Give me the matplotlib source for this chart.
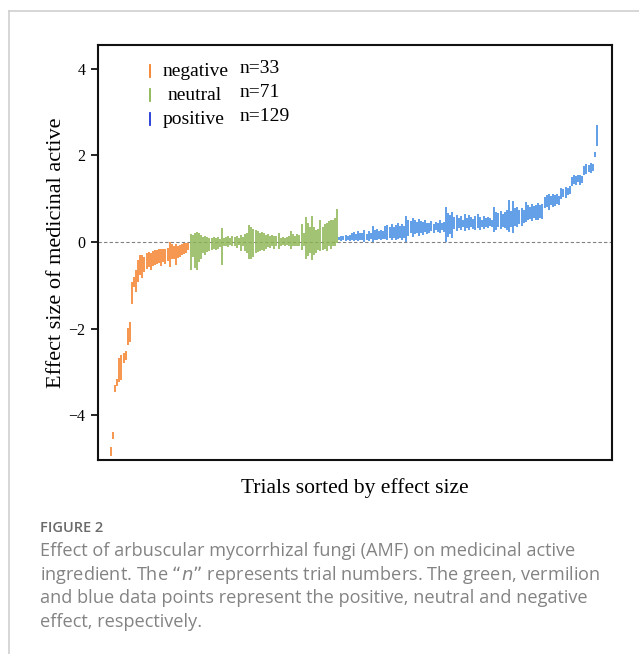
import matplotlib
matplotlib.use("Agg")
import matplotlib.pyplot as plt
import numpy as np
from matplotlib.lines import Line2D

# ---- data: (lower, upper) of each trial, sorted by effect size ----
neg_lo = [-4.94, -4.54, -3.46, -3.32, -3.23, -3.18, -2.79, -2.72, -2.38, -2.31,
          -1.43, -1.04, -1.15, -0.92, -0.76, -0.83, -0.69, -0.62, -0.58, -0.65,
          -0.55, -0.52, -0.50, -0.48, -0.55, -0.46, -0.50, -0.44, -0.58, -0.40,
          -0.38, -0.52, -0.36, -0.34, -0.30, -0.28, -0.24, -0.18]
neg_hi = [-4.73, -4.38, -3.30, -3.16, -2.68, -2.60, -2.56, -2.52, -1.98, -1.85,
          -0.92, -0.81, -0.65, -0.42, -0.30, -0.30, -0.35, -0.25, -0.22, -0.24,
          -0.20, -0.19, -0.18, -0.17, -0.16, -0.15, -0.16, -0.14, 0.00, -0.05,
          -0.10, -0.04, -0.08, -0.06, -0.05, -0.03, -0.02, -0.01]

neu_lo = [-0.64, -0.35, -0.60, -0.65, -0.45, -0.38, -0.26, -0.30, -0.23, -0.20,
          -0.18, -0.17, -0.18, -0.15, -0.12, -0.53, -0.10, -0.08, -0.12, -0.06,
          -0.10, -0.09, -0.13, -0.07, -0.20, -0.10, -0.20, -0.25, -0.40, -0.38,
          -0.35, -0.25, -0.22, -0.20, -0.18, -0.20, -0.15, -0.12, -0.14, -0.10,
          -0.16, -0.10, -0.15, -0.08, -0.06, -0.09, -0.07, -0.10, -0.15, -0.10,
          -0.08, -0.10, -0.09, -0.18, -0.10, -0.40, -0.33, -0.25, -0.41, -0.30,
          -0.26, -0.18, -0.20, -0.18, -0.15, -0.20, -0.10, -0.16, -0.08, -0.10,
          -0.03]
neu_hi = [0.19, 0.17, 0.21, 0.23, 0.21, 0.16, 0.12, 0.14, 0.12, 0.10,
          0.10, 0.12, 0.10, 0.12, 0.08, 0.32, 0.10, 0.12, 0.14, 0.10,
          0.13, 0.11, 0.15, 0.10, 0.16, 0.12, 0.18, 0.20, 0.40, 0.36,
          0.30, 0.28, 0.25, 0.22, 0.24, 0.20, 0.16, 0.18, 0.15, 0.17,
          0.15, 0.14, 0.20, 0.10, 0.12, 0.10, 0.12, 0.15, 0.25, 0.18,
          0.15, 0.18, 0.16, 0.42, 0.20, 0.59, 0.45, 0.36, 0.60, 0.35,
          0.28, 0.30, 0.50, 0.36, 0.42, 0.45, 0.48, 0.50, 0.52, 0.55,
          0.76]

pos_lo = [0.04, 0.02, 0.05, 0.03, 0.04, 0.02,
          0.06, 0.03, 0.05, 0.02, 0.06, 0.04, 0.01, 0.05, 0.03, 0.07,
          0.00,
          0.06, 0.04, 0.08, 0.05, 0.07,
          0.08, 0.05, 0.10, 0.06, 0.09, 0.04, 0.08, 0.10, 0.06, 0.09,
          0.00,
          0.15, 0.20, 0.12, 0.18, 0.22, 0.14, 0.20, 0.17, 0.24, 0.19,
          0.22, 0.26, 0.20, 0.28, 0.24, 0.21, 0.27, 0.23,
          0.00,
          0.12, 0.18, 0.10,
          0.30, 0.26, 0.33, 0.28, 0.35, 0.25, 0.32, 0.28, 0.34, 0.30, 0.27, 0.33, 0.29, 0.35, 0.31, 0.36,
          0.32, 0.38, 0.34,
          0.24,
          0.28, 0.34, 0.30, 0.36, 0.32, 0.27,
          0.24, 0.34, 0.20,
          0.38, 0.35, 0.42, 0.37, 0.44,
          0.47,
          0.50, 0.53, 0.48, 0.55, 0.52, 0.50, 0.56, 0.54,
          0.78, 0.82, 0.75, 0.85, 0.80, 0.84, 0.88, 0.86,
          1.00, 1.05, 1.02, 1.08, 1.12,
          1.30, 1.35, 1.32, 1.38, 1.31, 1.36,
          1.55, 1.58, 1.62, 1.60, 1.65,
          1.97, 2.22]
pos_hi = [0.12, 0.15, 0.13, 0.16, 0.14, 0.17,
          0.20, 0.24, 0.18, 0.26, 0.22, 0.20, 0.28, 0.19, 0.25, 0.22,
          0.37,
          0.27, 0.30, 0.25, 0.28, 0.26,
          0.38, 0.40, 0.36, 0.42, 0.35, 0.40, 0.44, 0.38, 0.41, 0.37,
          0.60,
          0.52, 0.48, 0.55, 0.50, 0.46, 0.53, 0.49, 0.47, 0.50, 0.45,
          0.44, 0.48, 0.42, 0.46, 0.45, 0.50, 0.43, 0.47,
          0.80,
          0.68, 0.62, 0.70,
          0.58, 0.62, 0.55, 0.60, 0.52, 0.65, 0.56, 0.62, 0.58, 0.54, 0.60, 0.64, 0.57, 0.52, 0.60, 0.55,
          0.58, 0.56, 0.50,
          0.80,
          0.70, 0.68, 0.72, 0.66, 0.70, 0.74,
          0.97, 0.72, 0.95,
          0.78, 0.80, 0.75, 0.79, 0.74,
          0.93,
          0.85, 0.82, 0.88, 0.84, 0.86, 0.90, 0.85, 0.88,
          1.05, 1.08, 1.10, 1.06, 1.10, 1.08, 1.12, 1.06,
          1.25, 1.22, 1.28, 1.26, 1.30,
          1.50, 1.55, 1.52, 1.56, 1.55, 1.53,
          1.75, 1.80, 1.78, 1.82, 1.80,
          2.08, 2.70]

groups = ["negative", "neutral", "positive"]
counts = [33, 71, 129]
y_ticks = [-4, -2, 0, 2, 4]
y_ticklabels = ["\u22124", "\u22122", "0", "2", "4"]

col_neg = "#F47F26"
col_neu = "#8BB550"
col_pos = "#3D89E3"
legend_cols = ["#F47F26", "#8BB550", "#1F35D6"]

fig = plt.figure(figsize=(6.39, 6.54), dpi=100)

# page frame lines
fig.add_artist(Line2D([9/639, 9/639], [0, 1 - 11/654], color="#cfcfcf", lw=1.2))
fig.add_artist(Line2D([9/639, 1], [1 - 11/654, 1 - 11/654], color="#cfcfcf", lw=1.2))

ax = fig.add_axes([98/639, 1 - 460/654, (612 - 98)/639, (460 - 45)/654])

lo_all = neg_lo + neu_lo + pos_lo
hi_all = neg_hi + neu_hi + pos_hi
cols = [col_neg] * len(neg_lo) + [col_neu] * len(neu_lo) + [col_pos] * len(pos_lo)
x = np.arange(len(lo_all))
ax.vlines(x, lo_all, hi_all, colors=cols, linewidth=1.15)
ax.axhline(0, color="#808080", linestyle=(0, (3, 2)), linewidth=0.8, zorder=0)

ax.set_xlim(-6.2, len(lo_all) - 1 + 7.2)
ax.set_ylim(-5.03, 4.55)
ax.set_xticks([])
ax.set_yticks(y_ticks)
ax.set_yticklabels(y_ticklabels, fontfamily="Liberation Serif", fontsize=11.5)
ax.tick_params(axis="y", direction="out", length=5, width=1.2, pad=4)
for s in ax.spines.values():
    s.set_linewidth(1.5)
    s.set_color("#111111")

ax.set_ylabel("Effect size of medicinal active", fontfamily="Liberation Serif", fontsize=16)
ax.yaxis.set_label_coords(-0.062, 0.5)
ax.set_xlabel("Trials sorted by effect size", fontfamily="Liberation Serif", fontsize=15.5, labelpad=13)

# legend
leg_y = [71, 95, 119]
for i, (g, n, c) in enumerate(zip(groups, counts, legend_cols)):
    yy = 1 - (leg_y[i] - 45) / (460 - 45)
    xm = (150 - 98) / 514
    ax.plot([xm, xm], [yy - 0.014, yy + 0.014], transform=ax.transAxes, color=c, lw=1.3)
    xt = (163 - 98) / 514 if g != "neutral" else (168 - 98) / 514
    ax.text(xt, yy, g, transform=ax.transAxes, fontfamily="Liberation Serif", fontsize=14, va="center", ha="left")
    ax.text((240 - 98) / 514, yy + 0.007, f"n={n}", transform=ax.transAxes, fontfamily="Liberation Serif", fontsize=14, va="center", ha="left")

# caption
fig.text(40/639, 1 - 528/654, "FIGURE 2", fontfamily="Open Sans", fontsize=10.5, color="#6a6a6a", va="center", fontweight="semibold")
cap = ["Effect of arbuscular mycorrhizal fungi (AMF) on medicinal active",
       "ingredient. The \u201c$\\it{n}$\u201d represents trial numbers. The green, vermilion",
       "and blue data points represent the positive, neutral and negative",
       "effect, respectively."]
for i, line in enumerate(cap):
    fig.text(40/639, 1 - (551 + 23.7 * i) / 654, line, fontfamily="Open Sans", fontsize=13.1, color="#838383", va="center")

fig.savefig("out.png", dpi=100)
